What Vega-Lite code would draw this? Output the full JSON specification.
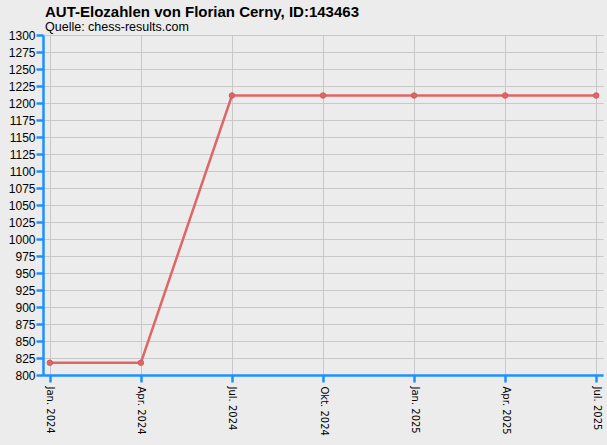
{
  "$schema": "https://vega.github.io/schema/vega-lite/v6.json",
  "width": 560,
  "height": 340,
  "autosize": {"type": "none"},
  "padding": {"left": 43, "top": 35, "right": 4, "bottom": 70},
  "background": "#ececec",
  "title": {
    "text": "AUT-Elozahlen von Florian Cerny, ID:143463",
    "subtitle": "Quelle: chess-results.com",
    "anchor": "start",
    "frame": "group",
    "dx": 2,
    "offset": -4,
    "font": "Liberation Sans",
    "fontSize": 15,
    "fontWeight": "bold",
    "color": "#000000",
    "subtitleFont": "Liberation Sans",
    "subtitleFontSize": 12.5,
    "subtitleColor": "#000000",
    "subtitlePadding": 1
  },
  "data": {
    "values": [
      {"Monat": "Jan. 2024", "Elo": 818},
      {"Monat": "Apr. 2024", "Elo": 818},
      {"Monat": "Jul. 2024", "Elo": 1211},
      {"Monat": "Okt. 2024", "Elo": 1211},
      {"Monat": "Jan. 2025", "Elo": 1211},
      {"Monat": "Apr. 2025", "Elo": 1211},
      {"Monat": "Jul. 2025", "Elo": 1211}
    ]
  },
  "mark": {
    "type": "line",
    "color": "#e06666",
    "strokeWidth": 2.5,
    "point": {"filled": true, "size": 30, "color": "#e06666", "stroke": "#d05a5a", "strokeWidth": 1}
  },
  "encoding": {
    "x": {
      "field": "Monat",
      "type": "ordinal",
      "sort": null,
      "scale": {"type": "point", "padding": 0.075},
      "axis": {
        "title": null,
        "labelAngle": 90,
        "labelAlign": "left",
        "labelBaseline": "middle",
        "labelFont": "DejaVu Sans",
        "labelFontSize": 10,
        "labelPadding": 4,
        "grid": true
      }
    },
    "y": {
      "field": "Elo",
      "type": "quantitative",
      "scale": {"domain": [800, 1300], "nice": false, "zero": false},
      "axis": {
        "title": null,
        "format": "d",
        "values": [800, 825, 850, 875, 900, 925, 950, 975, 1000, 1025, 1050, 1075, 1100, 1125, 1150, 1175, 1200, 1225, 1250, 1275, 1300],
        "labelFont": "Liberation Sans",
        "labelFontSize": 12,
        "labelPadding": 1,
        "tickSize": 7,
        "labelFlush": false,
        "labelOverlap": false
      }
    }
  },
  "config": {
    "view": {"stroke": null},
    "axis": {
      "domainColor": "#1e90ff",
      "domainWidth": 2.5,
      "tickColor": "#1e90ff",
      "tickWidth": 2.5,
      "tickSize": 7,
      "labelColor": "#000000",
      "gridColor": "#c8c8c8",
      "gridWidth": 1
    }
  }
}
